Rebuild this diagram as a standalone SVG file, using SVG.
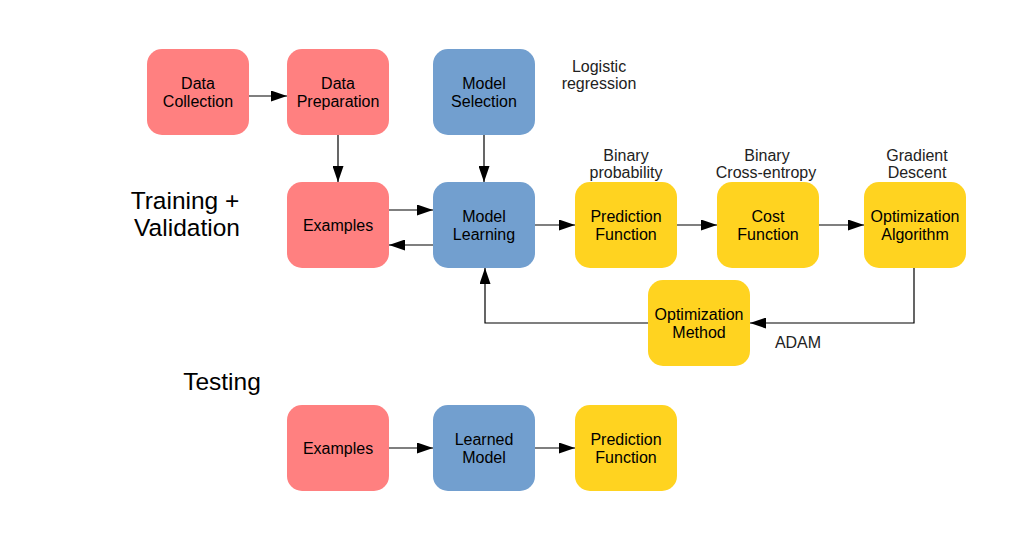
<svg xmlns="http://www.w3.org/2000/svg" width="1021" height="556" viewBox="0 0 1021 556">
<defs>
<marker id="ah" viewBox="0 0 16 11" refX="16" refY="5.5" markerWidth="16" markerHeight="11" markerUnits="userSpaceOnUse" orient="auto">
<path d="M0,0 L16,5.5 L0,11 Z" fill="#000"/>
</marker>
<style>
text{font-family:"Liberation Sans",Arial,sans-serif;fill:#000}
.n{font-size:16px;text-anchor:middle}
.a{font-size:16px;text-anchor:middle;fill:#222}
.h{font-size:24.5px;text-anchor:middle}
.red{fill:#ff8080}
.blue{fill:#729fcf}
.yel{fill:#ffd320}
.c path{fill:none;stroke:#000;stroke-width:1.2;marker-end:url(#ah)}
</style>
</defs>
<rect width="1021" height="556" fill="#fff"/>

<g id="labels">
<text class="h" x="185" y="209">Training +</text>
<text class="h" x="187" y="236">Validation</text>
<text class="h" x="222" y="390">Testing</text>
<text class="a" x="599" y="72">Logistic</text>
<text class="a" x="599" y="89">regression</text>
<text class="a" x="626" y="161">Binary</text>
<text class="a" x="626" y="178">probability</text>
<text class="a" x="767" y="161">Binary</text>
<text class="a" x="766" y="178">Cross-entropy</text>
<text class="a" x="917" y="161">Gradient</text>
<text class="a" x="917" y="178">Descent</text>
<text class="a" x="798" y="348">ADAM</text>
</g>

<g class="c" id="connectors">
<path d="M249,96 H287"/>
<path d="M338,135 V182"/>
<path d="M484,135 V182"/>
<path d="M389,210 H433"/>
<path d="M433,245 H389"/>
<path d="M535,225 H575"/>
<path d="M677,225 H717"/>
<path d="M819,225 H864"/>
<path d="M914,268 V323 H750"/>
<path d="M648,323 H485 V268"/>
<path d="M389,448 H433"/>
<path d="M535,448 H575"/>
</g>

<g id="data-collection"><rect class="red" x="147" y="49" width="102" height="86" rx="15"/><text class="n" x="198" y="89">Data</text><text class="n" x="198" y="107">Collection</text></g>
<g id="data-preparation"><rect class="red" x="287" y="49" width="102" height="86" rx="15"/><text class="n" x="338" y="89">Data</text><text class="n" x="338" y="107">Preparation</text></g>
<g id="model-selection"><rect class="blue" x="433" y="49" width="102" height="86" rx="15"/><text class="n" x="484" y="89">Model</text><text class="n" x="484" y="107">Selection</text></g>
<g id="examples-train"><rect class="red" x="287" y="182" width="102" height="86" rx="15"/><text class="n" x="338" y="231">Examples</text></g>
<g id="model-learning"><rect class="blue" x="433" y="182" width="102" height="86" rx="15"/><text class="n" x="484" y="222">Model</text><text class="n" x="484" y="240">Learning</text></g>
<g id="prediction-function"><rect class="yel" x="575" y="182" width="102" height="86" rx="15"/><text class="n" x="626" y="222">Prediction</text><text class="n" x="626" y="240">Function</text></g>
<g id="cost-function"><rect class="yel" x="717" y="182" width="102" height="86" rx="15"/><text class="n" x="768" y="222">Cost</text><text class="n" x="768" y="240">Function</text></g>
<g id="optimization-algorithm"><rect class="yel" x="864" y="182" width="102" height="86" rx="15"/><text class="n" x="915" y="222">Optimization</text><text class="n" x="915" y="240">Algorithm</text></g>
<g id="optimization-method"><rect class="yel" x="648" y="280" width="102" height="86" rx="15"/><text class="n" x="699" y="320">Optimization</text><text class="n" x="699" y="338">Method</text></g>
<g id="examples-test"><rect class="red" x="287" y="405" width="102" height="86" rx="15"/><text class="n" x="338" y="454">Examples</text></g>
<g id="learned-model"><rect class="blue" x="433" y="405" width="102" height="86" rx="15"/><text class="n" x="484" y="445">Learned</text><text class="n" x="484" y="463">Model</text></g>
<g id="prediction-function-test"><rect class="yel" x="575" y="405" width="102" height="86" rx="15"/><text class="n" x="626" y="445">Prediction</text><text class="n" x="626" y="463">Function</text></g>
</svg>
